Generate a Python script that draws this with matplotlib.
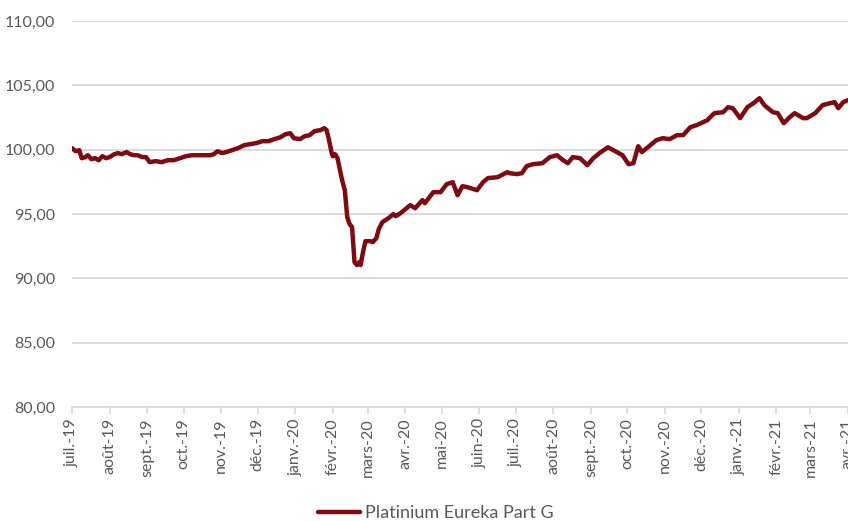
import matplotlib
matplotlib.use("Agg")
import matplotlib.pyplot as plt
import pandas as pd

# Data (days since 2019-07-01, value)
start = "2019-07-01"
days = [0, 3, 6, 8, 11, 13, 16, 19, 22, 25, 28, 31, 35, 38, 41, 45, 48, 51, 54, 58, 61,
        64, 69, 74, 79, 84, 89, 94, 99, 104, 109, 114, 117, 120, 124, 127, 132, 137, 142,
        147, 152, 157, 162, 167, 172, 176, 180, 183, 188, 192, 196, 200, 205, 208, 210,
        212, 214, 215, 217, 219, 221, 223, 225, 227, 229, 231, 233, 235, 237, 238, 240,
        242, 246, 248, 251, 253, 256, 261, 265, 267, 271, 279, 283, 289, 291, 298, 304,
        309, 314, 318, 322, 326, 334, 339, 343, 351, 359, 361, 367, 371, 375, 380, 388,
        394, 400, 405, 409, 413, 419, 425, 430, 435, 442, 448, 454, 459, 463, 467, 470,
        477, 482, 487, 493, 499, 504, 510, 515, 524, 528, 530, 537, 541, 545, 551, 557,
        562, 567, 571, 578, 582, 587, 592, 596, 603, 606, 613, 619, 625, 629, 632, 636, 640]
values = [100.12, 99.88, 99.96, 99.34, 99.42, 99.57, 99.26, 99.34, 99.18, 99.49, 99.34,
          99.42, 99.65, 99.73, 99.65, 99.81, 99.65, 99.57, 99.57, 99.42, 99.42,
          99.03, 99.11, 99.03, 99.18, 99.18, 99.34, 99.49, 99.57, 99.57, 99.57, 99.57,
          99.65, 99.88, 99.73, 99.81, 99.96, 100.12, 100.35, 100.43, 100.51, 100.66,
          100.66, 100.82, 100.97, 101.20, 101.28, 100.89, 100.82, 101.05, 101.13, 101.44,
          101.52, 101.67, 101.52, 100.74, 99.81, 99.49, 99.65, 99.34, 98.41, 97.55, 96.85,
          94.76, 94.21, 93.98, 91.26, 91.03, 91.26, 91.03, 92.04, 92.89, 92.89, 92.81,
          93.12, 93.82, 94.37, 94.68, 94.99, 94.83, 95.07, 95.69, 95.45, 96.08, 95.84,
          96.70, 96.70, 97.32, 97.47, 96.46, 97.16, 97.09, 96.85, 97.47, 97.79, 97.86,
          98.25, 98.17, 98.10, 98.17, 98.72, 98.87, 98.95, 99.42, 99.57, 99.18, 98.95,
          99.42, 99.34, 98.80, 99.34, 99.73, 100.19, 99.88, 99.57, 98.87, 98.95, 100.27,
          99.81, 100.35, 100.74, 100.89, 100.82, 101.13, 101.13, 101.75, 101.90, 102.29,
          102.68, 102.84, 102.91, 103.30, 103.22, 102.45, 103.30, 103.61, 104.00, 103.46,
          102.91, 102.84, 102.06, 102.53, 102.84, 102.45, 102.45, 102.84, 103.46, 103.61,
          103.69, 103.22, 103.69, 103.85]
series_name = "Platinium Eureka Part G"

tick_dates = pd.date_range("2019-07-01", "2021-04-01", freq="MS")
tick_labels = ["juil.-19", "août-19", "sept.-19", "oct.-19", "nov.-19", "déc.-19",
               "janv.-20", "févr.-20", "mars-20", "avr.-20", "mai-20", "juin-20",
               "juil.-20", "août-20", "sept.-20", "oct.-20", "nov.-20", "déc.-20",
               "janv.-21", "févr.-21", "mars-21", "avr.-21"]
y_ticks = [80, 85, 90, 95, 100, 105, 110]

dates = pd.Timestamp(start) + pd.to_timedelta(days, unit="D")

plt.rcParams["font.family"] = ["Lato", "DejaVu Sans"]

fig = plt.figure(figsize=(8.48, 5.21), dpi=100)
ax = fig.add_axes([72 / 848, 1 - 407 / 521, 1 - 72 / 848, (407 - 21) / 521])

line, = ax.plot(dates, values, color="#7f0a0f", lw=3.2, solid_joinstyle="round",
                solid_capstyle="round", label=series_name, zorder=3)

ax.set_ylim(80, 110)
ax.set_yticks(y_ticks)
ax.set_yticklabels([f"{v:.2f}".replace(".", ",") for v in y_ticks])
ax.set_xlim(pd.Timestamp("2019-07-01"), pd.Timestamp("2021-04-01"))
ax.set_xticks(tick_dates)
ax.set_xticklabels(tick_labels, rotation=90, va="top", ha="center")

ax.grid(axis="y", color="#d9d9d9", lw=1.3, zorder=0)
for s in ["left", "right", "top"]:
    ax.spines[s].set_visible(False)
ax.spines["bottom"].set_color("#d9d9d9")
ax.spines["bottom"].set_linewidth(1.3)
ax.tick_params(axis="y", length=0, pad=12, labelsize=11.5, labelcolor="#595959")
ax.tick_params(axis="x", length=5, width=1.2, color="#d9d9d9", pad=3,
               labelsize=11.5, labelcolor="#595959")

fig.legend(handles=[line], loc="center", bbox_to_anchor=(436 / 848, 1 - 513 / 521),
           frameon=False, fontsize=13, handlelength=2.3, handletextpad=0.3,
           labelcolor="#595959")

fig.savefig("out.png", dpi=100)
